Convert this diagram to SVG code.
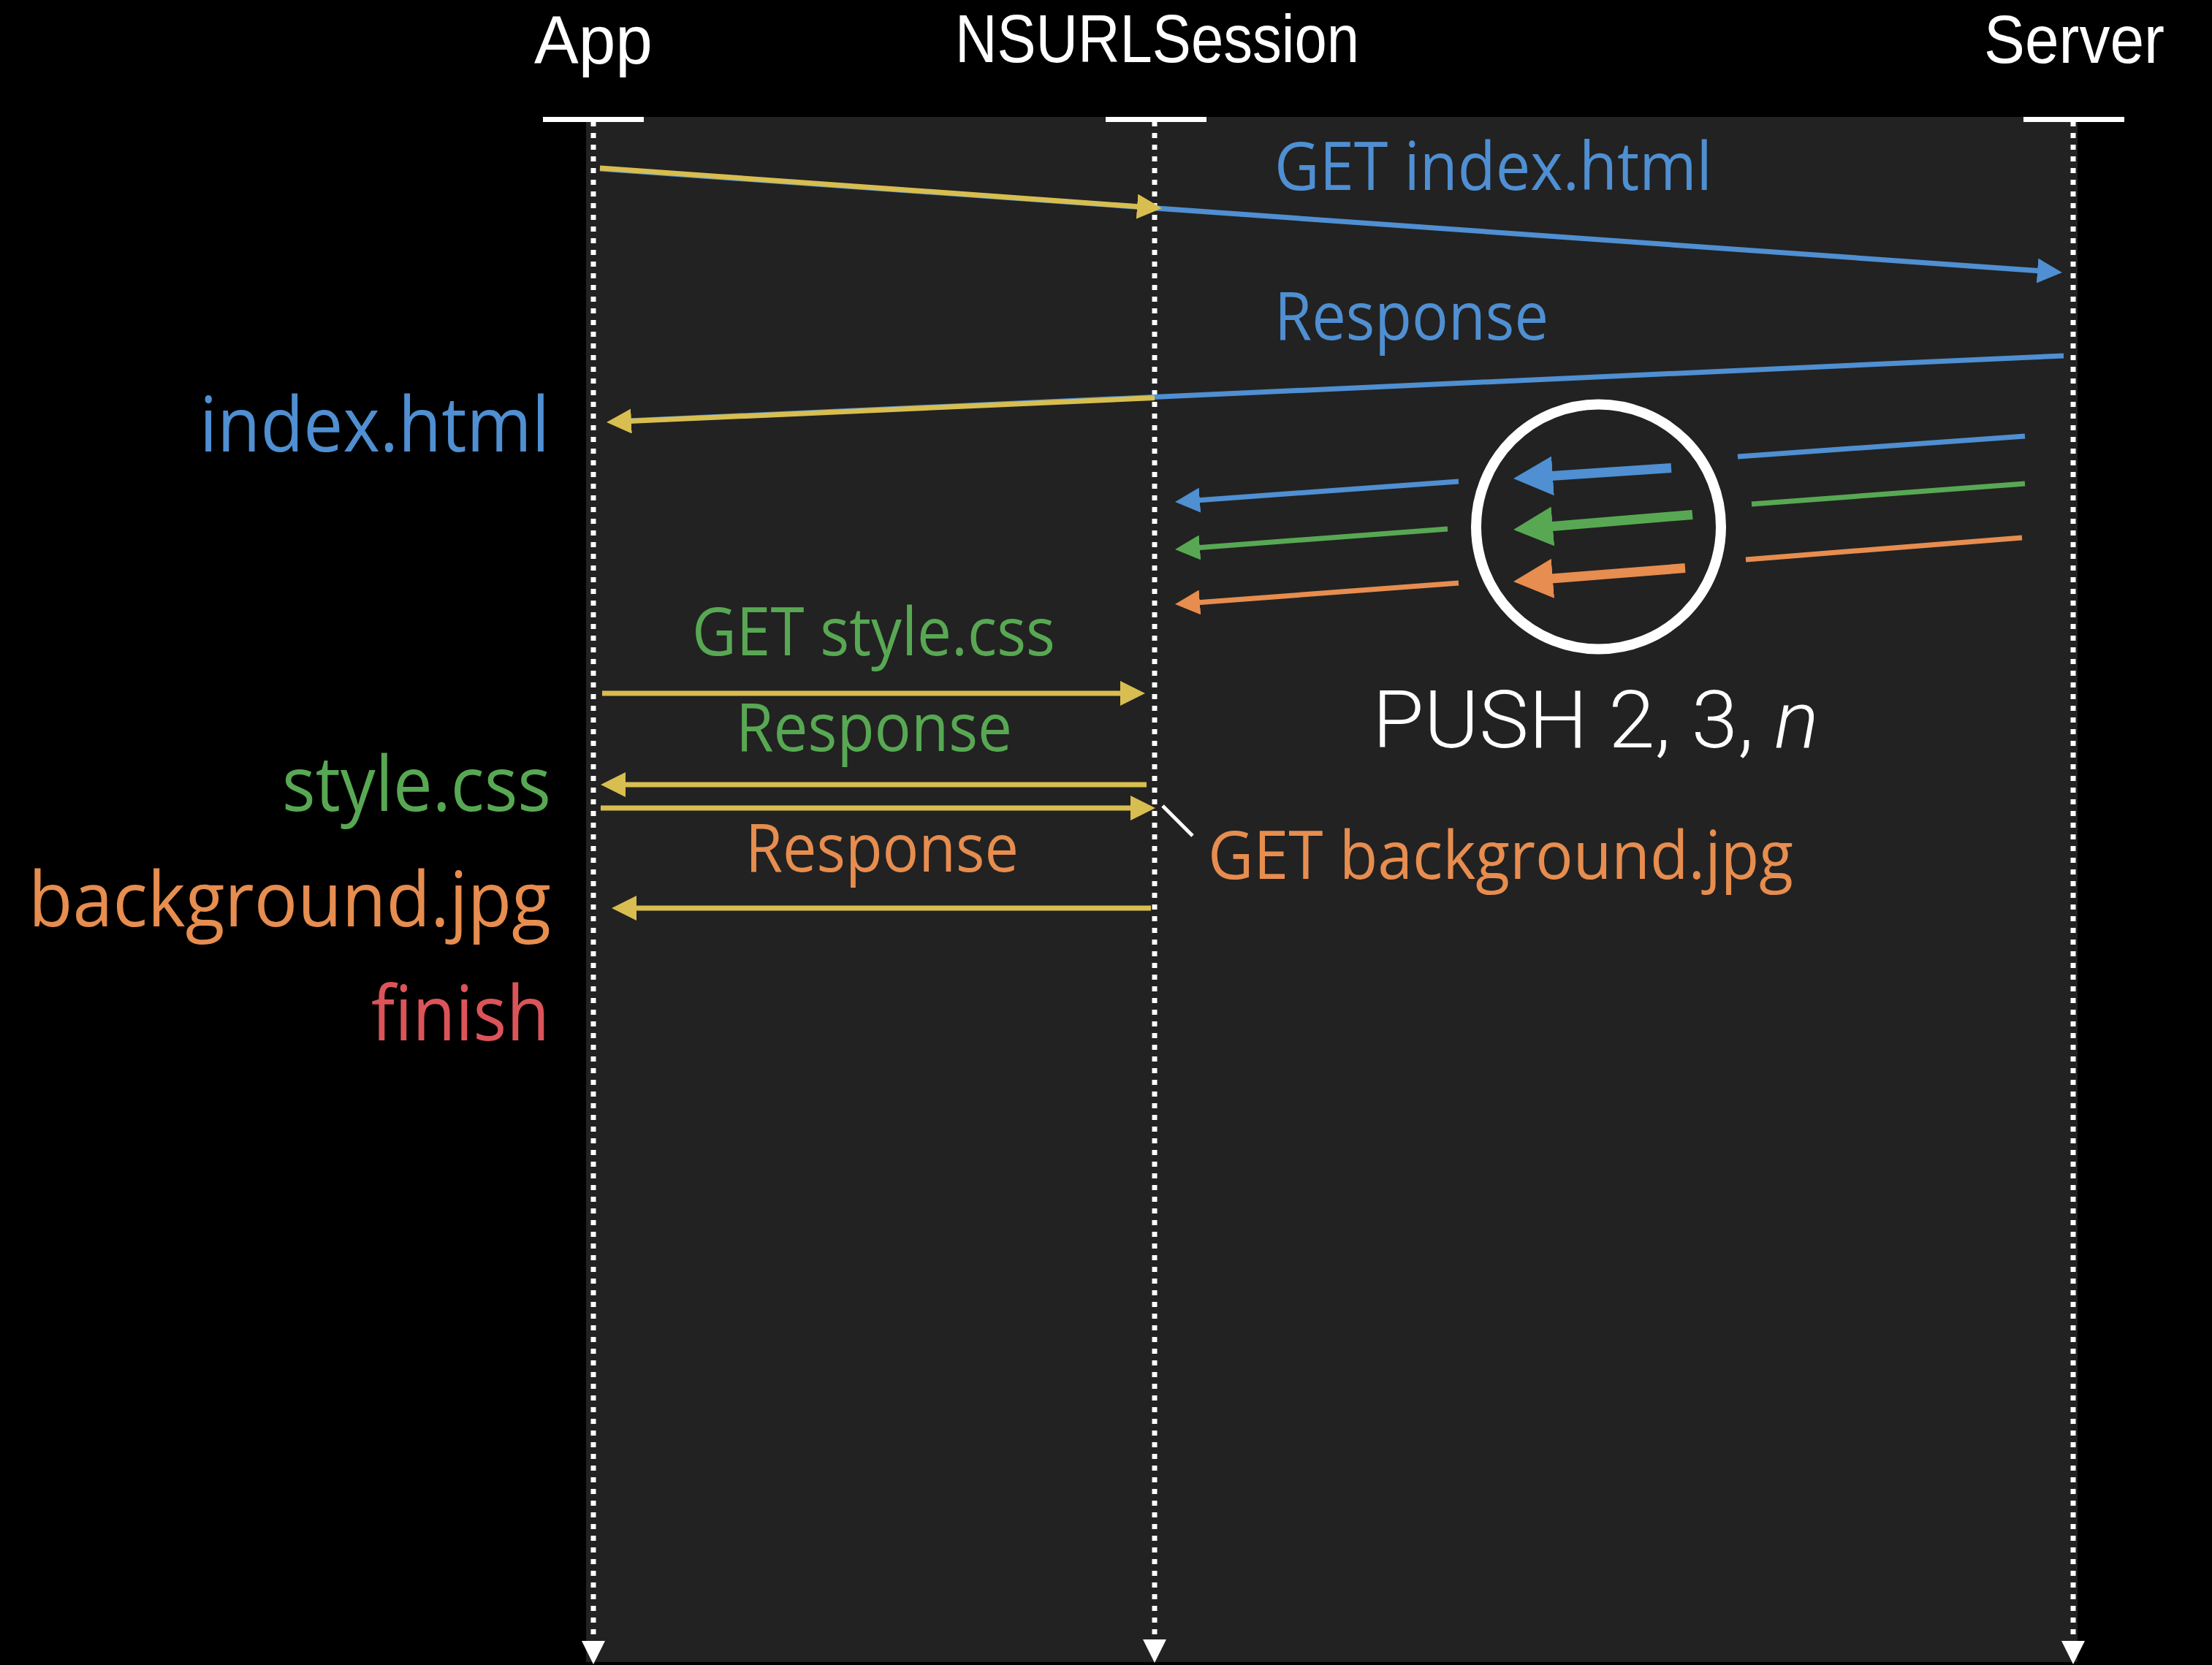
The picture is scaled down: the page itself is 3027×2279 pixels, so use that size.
<svg xmlns="http://www.w3.org/2000/svg" xmlns:xlink="http://www.w3.org/1999/xlink" width="3027" height="2279" viewBox="0 0 3027 2279">
  <style>
    .title { font-family: "Liberation Sans", Arial, sans-serif; font-size: 92px; fill: #ffffff; }
    .lbl { font-family: "Open Sans", "Noto Sans", "Liberation Sans", sans-serif; font-size: 92px; }
    .side { font-family: "Open Sans", "Noto Sans", "Liberation Sans", sans-serif; font-size: 105px; }
    .push { font-family: Roboto, "Liberation Sans", sans-serif; font-weight: 300; font-size: 110px; fill: #ffffff; }
    .blue { fill: #4F8FD2; }
    .green { fill: #58A853; }
    .orange { fill: #E68D4F; }
    .red { fill: #DB5459; }
    .bar { fill: #ffffff; }
    .life { stroke: #ffffff; stroke-width: 7; stroke-dasharray: 7 9; fill: none; }
    .ln { fill: none; stroke-width: 7; stroke-linecap: butt; }
    .thick { fill: none; stroke-width: 13; stroke-linecap: butt; }
    .sy { stroke: #D8BE50; }
    .sb { stroke: #4F8FD2; }
    .sg { stroke: #58A853; }
    .so { stroke: #E68D4F; }
  </style>
  <defs>
    <marker id="ahY" viewBox="0 0 34 34" markerWidth="34" markerHeight="34" refX="26" refY="17" orient="auto" markerUnits="userSpaceOnUse"><path d="M0,0 L34,17 L0,34 z" fill="#D8BE50"/></marker>
    <marker id="ahB" viewBox="0 0 34 34" markerWidth="34" markerHeight="34" refX="26" refY="17" orient="auto" markerUnits="userSpaceOnUse"><path d="M0,0 L34,17 L0,34 z" fill="#4F8FD2"/></marker>
    <marker id="ahG" viewBox="0 0 34 34" markerWidth="34" markerHeight="34" refX="26" refY="17" orient="auto" markerUnits="userSpaceOnUse"><path d="M0,0 L34,17 L0,34 z" fill="#58A853"/></marker>
    <marker id="ahO" viewBox="0 0 34 34" markerWidth="34" markerHeight="34" refX="26" refY="17" orient="auto" markerUnits="userSpaceOnUse"><path d="M0,0 L34,17 L0,34 z" fill="#E68D4F"/></marker>
    <marker id="ahBT" viewBox="0 0 54 54" markerWidth="54" markerHeight="54" refX="40" refY="27" orient="auto" markerUnits="userSpaceOnUse"><path d="M0,0 L54,27 L0,54 z" fill="#4F8FD2"/></marker>
    <marker id="ahGT" viewBox="0 0 54 54" markerWidth="54" markerHeight="54" refX="40" refY="27" orient="auto" markerUnits="userSpaceOnUse"><path d="M0,0 L54,27 L0,54 z" fill="#58A853"/></marker>
    <marker id="ahOT" viewBox="0 0 54 54" markerWidth="54" markerHeight="54" refX="40" refY="27" orient="auto" markerUnits="userSpaceOnUse"><path d="M0,0 L54,27 L0,54 z" fill="#E68D4F"/></marker>
    <path id="lifeHead" d="M-16,0 L16,0 L0,32 z" fill="#ffffff"/>
  </defs>

  <rect x="0" y="0" width="3027" height="2279" fill="#000000"/>
  <rect id="panel" x="802" y="160" width="2041" height="2115" fill="#222222"/>

  <g id="app">
    <text class="title" x="731" y="87" textLength="162" lengthAdjust="spacingAndGlyphs">App</text>
    <rect class="bar" x="743" y="160" width="138" height="7"/>
    <line class="life" x1="812" y1="166" x2="812" y2="2250"/>
    <use xlink:href="#lifeHead" x="812" y="2246"/>
  </g>
  <g id="nsurlsession">
    <text class="title" x="1307" y="85" textLength="553" lengthAdjust="spacingAndGlyphs">NSURLSession</text>
    <rect class="bar" x="1513" y="160" width="138" height="7"/>
    <line class="life" x1="1580" y1="166" x2="1580" y2="2246"/>
    <use xlink:href="#lifeHead" x="1580" y="2244"/>
  </g>
  <g id="server">
    <text class="title" x="2715" y="86" textLength="247" lengthAdjust="spacingAndGlyphs">Server</text>
    <rect class="bar" x="2769" y="160" width="138" height="7"/>
    <line class="life" x1="2837" y1="166" x2="2837" y2="2250"/>
    <use xlink:href="#lifeHead" x="2837" y="2246"/>
  </g>

  <g id="connectors">
    <!-- GET index.html -->
    <line class="ln sb" x1="821" y1="231" x2="2814" y2="372.4" marker-end="url(#ahB)"/>
    <line class="ln sy" x1="821" y1="230" x2="1582" y2="284.4" marker-end="url(#ahY)"/>
    <!-- Response index.html -->
    <line class="ln sb" x1="2824" y1="487" x2="838" y2="577"/>
    <line class="ln sy" x1="1580" y1="544.5" x2="838" y2="577.6" marker-end="url(#ahY)"/>
    <!-- push streams, left part -->
    <line class="ln sb" x1="1996" y1="659" x2="1616" y2="686.4" marker-end="url(#ahB)"/>
    <line class="ln sg" x1="1981" y1="724" x2="1616" y2="751.4" marker-end="url(#ahG)"/>
    <line class="ln so" x1="1996" y1="798" x2="1616" y2="826.4" marker-end="url(#ahO)"/>
    <!-- push streams, right part -->
    <line class="ln sb" x1="2771" y1="597" x2="2378" y2="625"/>
    <line class="ln sg" x1="2771" y1="662" x2="2397" y2="690"/>
    <line class="ln so" x1="2767" y1="736" x2="2389" y2="766"/>
    <!-- push streams, in circle -->
    <line class="thick sb" x1="2287" y1="640.5" x2="2085" y2="654.1" marker-end="url(#ahBT)"/>
    <line class="thick sg" x1="2316" y1="704.5" x2="2085" y2="723.8" marker-end="url(#ahGT)"/>
    <line class="thick so" x1="2306" y1="777.5" x2="2085" y2="794.9" marker-end="url(#ahOT)"/>
    <!-- style.css -->
    <line class="ln sy" x1="824" y1="949" x2="1559" y2="949" marker-end="url(#ahY)"/>
    <line class="ln sy" x1="1569" y1="1074" x2="830" y2="1074" marker-end="url(#ahY)"/>
    <!-- background.jpg -->
    <line class="ln sy" x1="822" y1="1106" x2="1573" y2="1106" marker-end="url(#ahY)"/>
    <line class="ln sy" x1="1575" y1="1243" x2="845" y2="1243" marker-end="url(#ahY)"/>
    <!-- callout tick -->
    <line x1="1591" y1="1103" x2="1632" y2="1144" stroke="#ffffff" stroke-width="5"/>
  </g>

  <g id="push">
    <circle cx="2187.5" cy="721" r="167.5" fill="none" stroke="#ffffff" stroke-width="14"/>
    <text class="push" x="1878" y="1023" textLength="611" lengthAdjust="spacingAndGlyphs">PUSH 2, 3, <tspan font-style="italic">n</tspan></text>
  </g>

  <g id="labels">
    <text class="lbl blue" x="1744" y="260" textLength="599" lengthAdjust="spacingAndGlyphs">GET index.html</text>
    <text class="lbl blue" x="1744" y="465" textLength="375" lengthAdjust="spacingAndGlyphs">Response</text>
    <text class="lbl green" x="947" y="897" textLength="497" lengthAdjust="spacingAndGlyphs">GET style.css</text>
    <text class="lbl green" x="1007" y="1028" textLength="378" lengthAdjust="spacingAndGlyphs">Response</text>
    <text class="lbl orange" x="1020" y="1193" textLength="374" lengthAdjust="spacingAndGlyphs">Response</text>
    <text class="lbl orange" x="1653" y="1203" textLength="801" lengthAdjust="spacingAndGlyphs">GET background.jpg</text>
  </g>

  <g id="app-events">
    <text class="side blue" x="273" y="618" textLength="479" lengthAdjust="spacingAndGlyphs">index.html</text>
    <text class="side green" x="386" y="1110" textLength="368" lengthAdjust="spacingAndGlyphs">style.css</text>
    <text class="side orange" x="39" y="1268" textLength="715" lengthAdjust="spacingAndGlyphs">background.jpg</text>
    <text class="side red" x="508" y="1424" textLength="244" lengthAdjust="spacingAndGlyphs">finish</text>
  </g>
</svg>
